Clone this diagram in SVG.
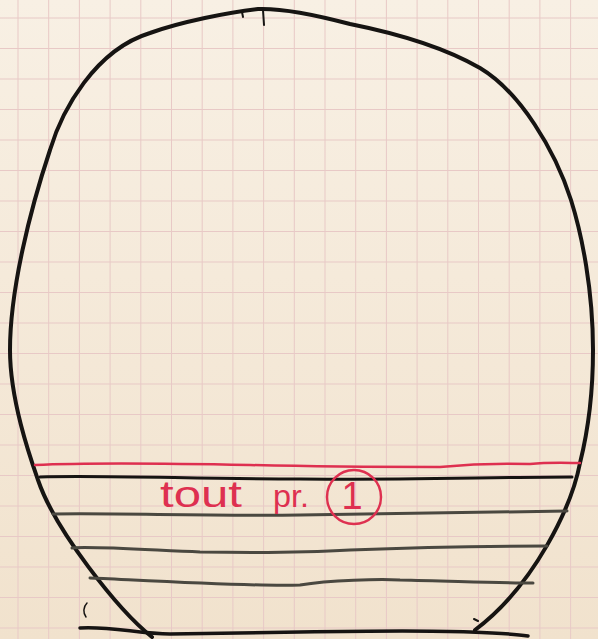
<svg xmlns="http://www.w3.org/2000/svg" width="598" height="639" viewBox="0 0 598 639">
  <defs>
    <linearGradient id="paper" x1="0" y1="0" x2="0" y2="1">
      <stop offset="0" stop-color="#f8f0e4"/>
      <stop offset="1" stop-color="#f1e2cd"/>
    </linearGradient>
  </defs>
  <style>
    .grid { fill: none; stroke: #e8c9c6; stroke-width: 1; }
    .ink { fill: none; stroke: #161412; stroke-linecap: round; stroke-linejoin: round; }
    .pencil { fill: none; stroke: #4a4840; stroke-width: 3; stroke-linecap: round; }
    .red { fill: none; stroke: #de3050; stroke-linecap: round; }
    .redtext { fill: #de3050; font-family: "Liberation Sans", Arial, sans-serif; }
  </style>
  <rect x="0" y="0" width="598" height="639" fill="url(#paper)"/>
  <g id="grid">
    <path class="grid" d="M18,0V639 M48.7,0V639 M79.4,0V639 M110.1,0V639 M140.8,0V639 M171.5,0V639 M202.2,0V639 M232.9,0V639 M263.6,0V639 M294.3,0V639 M325,0V639 M355.7,0V639 M386.4,0V639 M417.1,0V639 M447.8,0V639 M478.5,0V639 M509.2,0V639 M539.9,0V639 M570.6,0V639
      M0,18H598 M0,48.5H598 M0,79H598 M0,109.5H598 M0,140H598 M0,170.5H598 M0,201H598 M0,231.5H598 M0,262H598 M0,292.5H598 M0,323H598 M0,353.5H598 M0,384H598 M0,414.5H598 M0,445H598 M0,475.5H598 M0,506H598 M0,536.5H598 M0,567H598 M0,597.5H598 M0,628H598"/>
  </g>
  <g id="outline">
    <path class="ink" stroke-width="4" d="M152,637 C118,610 55,530 38,480 C30,457 10,400 10,350 C10,290 30,210 50,150 C62,110 95,50 150,33 C180,22 230,12 258,9 C285,8 320,16 350,24 C390,32 440,45 480,68 C520,92 555,150 571,200 C582,235 593,290 593,350 C593,400 587,435 580,463 C572,505 535,585 475,630"/>
    <path class="ink" stroke-width="2" d="M242,12 L243,17 M263,10 L264,25 M478,621 L474,619"/>
    <path class="ink" stroke-width="1.5" d="M87,603 C83,607 83,613 86,617"/>
    <path class="ink" stroke-width="3.5" d="M80,628 C110,626 140,634 170,634 L300,632 C360,631 420,630 470,632 C500,633 515,634 528,636"/>
  </g>
  <g id="lines">
    <path class="red" stroke-width="2.5" d="M35,465 C100,462 200,464 250,465 C330,467 400,467 440,467 C470,464 500,463 530,464 C550,462 570,463 580,463"/>
    <path class="ink" stroke-width="3" d="M40,477 C100,475 200,479 300,479 C400,480 500,477 572,477"/>
    <path class="pencil" stroke="#2e2c28" d="M53,514 C120,513 200,516 300,515 C400,514 500,512 567,511"/>
    <path class="pencil" d="M72,548 C90,546 150,550 200,552 C260,553 300,553 350,550 C420,547 500,546 547,546"/>
    <path class="pencil" d="M90,578 C120,579 250,587 300,585 C330,580 380,579 400,580 C450,581 500,583 533,583"/>
  </g>
  <g id="label">
    <text class="redtext" x="160" y="507" font-size="36" textLength="82" lengthAdjust="spacingAndGlyphs">tout</text>
    <text class="redtext" x="273" y="507" font-size="32" textLength="36" lengthAdjust="spacingAndGlyphs">pr.</text>
    <circle class="red" stroke-width="2.5" cx="354" cy="497" r="27"/>
    <text class="redtext" x="352" y="509" font-size="38" text-anchor="middle">1</text>
  </g>
</svg>
